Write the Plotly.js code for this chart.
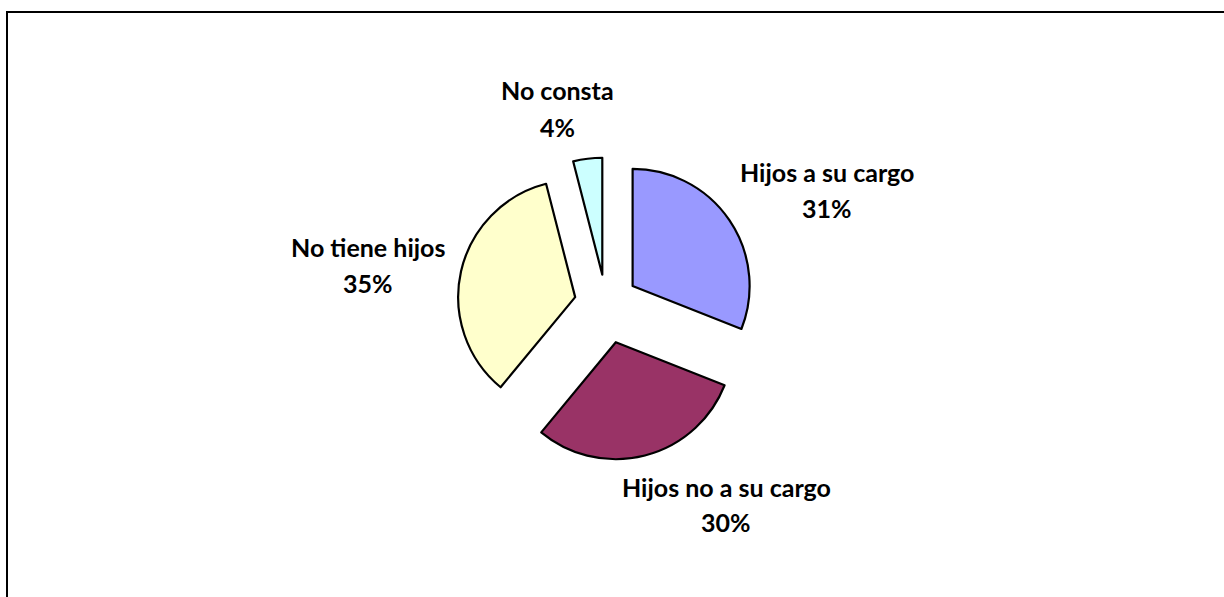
<!DOCTYPE html>
<html>
<head>
<meta charset="utf-8">
<script src="https://cdn.plot.ly/plotly-3.0.1.min.js"></script>
<style>
  html, body { margin: 0; padding: 0; background: #ffffff; }
  #chart { width: 1224px; height: 597px; }
</style>
</head>
<body>
<div id="chart"></div>
<script>
// ---- data ----
const categories = ["Hijos a su cargo", "Hijos no a su cargo", "No tiene hijos", "No consta"];
const values = [31, 30, 35, 4];
const percentLabels = ["31%", "30%", "35%", "4%"];

// ---- style ----
const sliceColors = ["#9999FF", "#993366", "#FFFFCC", "#CCFFFF"];
const pulls = [0.275, 0.337, 0.27, 0.252];
const W = 1224, H = 597;
const pieCenter = [606, 304];   // px
const pieRadius = 117;          // px
const maxPull = Math.max.apply(null, pulls);
const half = pieRadius * (1 + maxPull);

// label positions (px, text centres of each line)
const labelPos = [
  [827, 172, 208],
  [726, 487, 522],
  [368, 247, 283],
  [557, 90, 127]
];

const trace = {
  type: "pie",
  labels: categories,
  values: values,
  sort: false,
  direction: "clockwise",
  rotation: 0,
  pull: pulls,
  marker: { colors: sliceColors, line: { color: "#000000", width: 2.2 } },
  textinfo: "none",
  hoverinfo: "label+percent",
  showlegend: false,
  domain: {
    x: [(pieCenter[0] - half) / W, (pieCenter[0] + half) / W],
    y: [1 - (pieCenter[1] + half) / H, 1 - (pieCenter[1] - half) / H]
  }
};

const font = { family: "Lato, 'Open Sans', sans-serif", size: 25, color: "#000000" };
const annotations = [];
categories.forEach((c, i) => {
  annotations.push({
    xref: "paper", yref: "paper",
    x: labelPos[i][0] / W, y: 1 - labelPos[i][1] / H,
    xanchor: "center", yanchor: "middle",
    text: "<b>" + c + "</b>", showarrow: false, font: font
  });
  annotations.push({
    xref: "paper", yref: "paper",
    x: labelPos[i][0] / W, y: 1 - labelPos[i][2] / H,
    xanchor: "center", yanchor: "middle",
    text: "<b>" + percentLabels[i] + "</b>", showarrow: false, font: font
  });
});

const layout = {
  width: W, height: H,
  margin: { l: 0, r: 0, t: 0, b: 0 },
  paper_bgcolor: "#ffffff",
  plot_bgcolor: "#ffffff",
  showlegend: false,
  annotations: annotations,
  shapes: [{
    type: "rect", xref: "paper", yref: "paper",
    x0: 7 / W, x1: 1.02, y0: -0.02, y1: 1 - 12 / H,
    line: { color: "#000000", width: 2 }, fillcolor: "rgba(0,0,0,0)"
  }]
};

Plotly.newPlot("chart", [trace], layout, { displayModeBar: false, staticPlot: true });
</script>
</body>
</html>
